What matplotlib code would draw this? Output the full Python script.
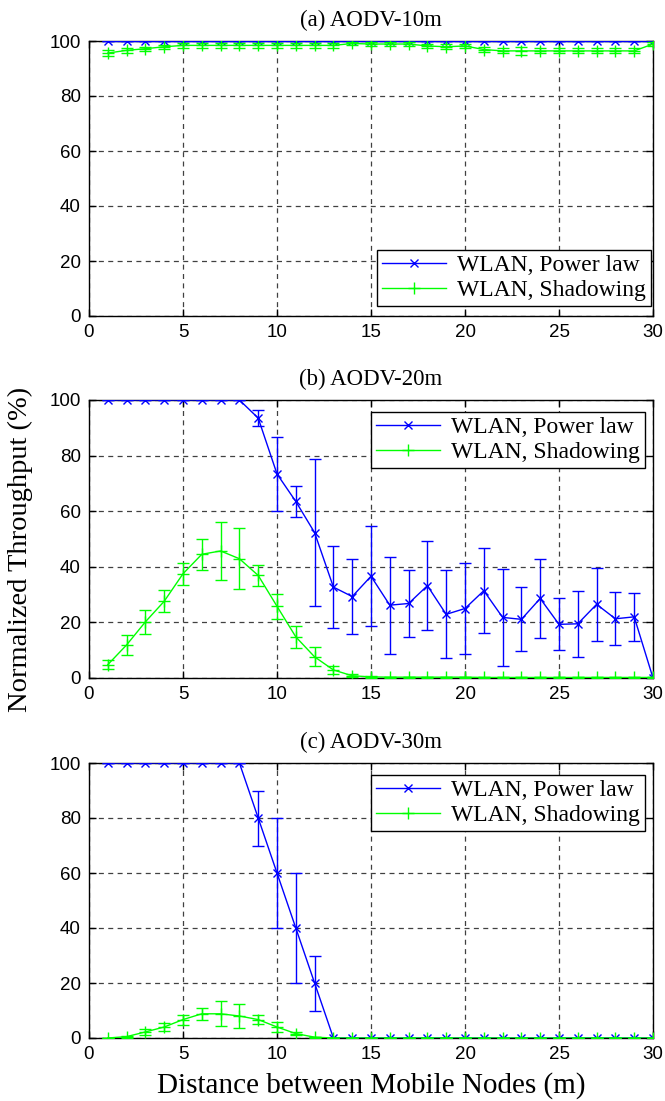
import matplotlib
matplotlib.use("Agg")
import matplotlib.pyplot as plt

# Node spacing (m)
distance = list(range(1, 31))

# (a) AODV-10m
a_power = [100] * 30
a_power_err = [0] * 30
a_shadow = [95.6, 96.6, 97.2, 97.9, 98.4, 98.4, 98.4, 98.4, 98.4, 98.4,
            98.4, 98.4, 98.4, 99.1, 98.9, 98.9, 98.9, 98.2, 97.9, 98.2,
            96.9, 96.4, 96.4, 96.4, 96.4, 96.4, 96.4, 96.4, 96.4, 98.9]
a_shadow_err = [1.2, 0.9, 0.8, 0.8, 0.8, 0.8, 0.8, 0.8, 0.8, 0.9,
                0.8, 0.9, 0.8, 0.7, 0.8, 0.8, 0.7, 0.8, 0.9, 0.8,
                0.8, 0.9, 1.5, 0.9, 0.9, 0.9, 0.9, 0.9, 0.9, 0.6]

# (b) AODV-20m
b_power = [100, 100, 100, 100, 100, 100, 100, 100, 93.5, 73.4,
           63.5, 52.3, 32.7, 29.3, 36.6, 26.2, 26.8, 33.2, 22.9, 25.0,
           31.4, 21.8, 21.1, 28.6, 19.3, 19.5, 26.5, 21.3, 22.0, 0]
b_power_err = [0, 0, 0, 0, 0, 0, 0, 0, 3.0, 13.3,
               5.6, 26.3, 14.7, 13.4, 18.0, 17.4, 12.0, 16.0, 15.8, 16.2,
               15.2, 17.5, 11.5, 14.2, 9.3, 11.9, 13.1, 9.6, 8.7, 0]
b_shadow = [4.8, 11.9, 20.2, 27.6, 37.5, 44.5, 45.7, 42.9, 36.9, 25.8,
            14.8, 7.6, 2.9, 0.8, 0.4, 0.3, 0.3, 0.3, 0.3, 0.3,
            0.2, 0.2, 0.2, 0.2, 0.2, 0.2, 0.2, 0.2, 0.2, 0.2]
b_shadow_err = [1.6, 3.6, 4.2, 4.0, 4.0, 5.5, 10.5, 11.0, 3.9, 4.4,
                4.0, 3.4, 1.5, 0.6, 0.3, 0.2, 0.2, 0.2, 0.2, 0.2,
                0.1, 0.1, 0.1, 0.1, 0.1, 0.1, 0.1, 0.1, 0.1, 0.1]

# (c) AODV-30m
c_power = [100, 100, 100, 100, 100, 100, 100, 100, 80, 60,
           40, 20, 0, 0, 0, 0, 0, 0, 0, 0,
           0, 0, 0, 0, 0, 0, 0, 0, 0, 0]
c_power_err = [0, 0, 0, 0, 0, 0, 0, 0, 10, 20,
               20, 10, 0, 0, 0, 0, 0, 0, 0, 0,
               0, 0, 0, 0, 0, 0, 0, 0, 0, 0]
c_shadow = [0, 0.5, 2.2, 4.0, 6.7, 8.8, 8.8, 8.0, 6.7, 4.0,
            1.6, 0.3, 0, 0, 0, 0, 0, 0, 0, 0,
            0, 0, 0, 0, 0, 0, 0, 0, 0, 0]
c_shadow_err = [0, 0.4, 1.0, 1.5, 1.8, 2.2, 4.6, 4.5, 1.6, 1.8,
                0.6, 0.2, 0, 0, 0, 0, 0, 0, 0, 0,
                0, 0, 0, 0, 0, 0, 0, 0, 0, 0]

titles = ["(a) AODV-10m", "(b) AODV-20m", "(c) AODV-30m"]
series_labels = ["WLAN, Power law", "WLAN, Shadowing"]
x_ticks = [0, 5, 10, 15, 20, 25, 30]
y_ticks = [0, 20, 40, 60, 80, 100]

BLUE = "#0000ff"
GREEN = "#00ff00"
SERIF = "Liberation Serif"
SANS = "Liberation Sans"

W, H = 665, 1101
fig = plt.figure(figsize=(W / 100, H / 100), dpi=100)

# axes boxes in pixels: (left, top, right, bottom)
boxes = [(89, 41, 653, 316), (89, 400, 653, 678), (89, 763, 653, 1038)]
legend_loc = ["lower right", "upper right", "upper right"]

panels = [
    (a_power, a_power_err, a_shadow, a_shadow_err),
    (b_power, b_power_err, b_shadow, b_shadow_err),
    (c_power, c_power_err, c_shadow, c_shadow_err),
]

for i, (box, (p, pe, s, se)) in enumerate(zip(boxes, panels)):
    l, t, r, b = box
    ax = fig.add_axes([l / W, 1 - b / H, (r - l) / W, (b - t) / H])

    ax.errorbar(distance, p, yerr=pe, fmt="none", ecolor=BLUE,
                elinewidth=1.0, capsize=4, capthick=1.0, zorder=3)
    ax.plot(distance, p, "-x", color=BLUE, lw=1.0, ms=6, mew=1.0,
            label=series_labels[0], zorder=4)
    ax.errorbar(distance, s, yerr=se, fmt="none", ecolor=GREEN,
                elinewidth=1.0, capsize=4, capthick=1.0, zorder=5)
    ax.plot(distance, s, "-+", color=GREEN, lw=1.0, ms=8, mew=1.0,
            label=series_labels[1], zorder=6)

    ax.set_xlim(0, 30)
    ax.set_ylim(0, 100)
    ax.set_xticks(x_ticks)
    ax.set_yticks(y_ticks)
    ax.grid(True, color="0.25", linestyle=(0, (4, 3.5)), linewidth=0.9)
    ax.set_axisbelow(True)
    ax.tick_params(direction="in", length=5, width=1, top=True, right=True,
                   labelsize=13.5, pad=6)
    for lab in ax.get_xticklabels() + ax.get_yticklabels():
        lab.set_fontfamily(SANS)
    for sp in ax.spines.values():
        sp.set_linewidth(1.0)
        sp.set_color("black")

    ax.set_title(titles[i], family=SERIF, fontsize=16.5, pad=11)

    if legend_loc[i] == "upper right":
        anchor = (1 - 8 / (r - l), 1 - 12 / (b - t))
    else:
        anchor = (1 - 2 / (r - l), 10 / (b - t))
    leg = ax.legend(loc=legend_loc[i], bbox_to_anchor=anchor,
                    prop={"family": SERIF, "size": 17},
                    fancybox=False, framealpha=1, edgecolor="black",
                    borderpad=0.2, labelspacing=0.15, handlelength=2.7,
                    handletextpad=0.5, borderaxespad=0.0)
    leg.get_frame().set_linewidth(1.0)

    if i == 2:
        ax.set_xlabel("Distance between Mobile Nodes (m)", family=SERIF,
                      fontsize=21, labelpad=6)

fig.text(20 / W, 1 - 549 / H, "Normalized Throughput (%)", family=SERIF,
         fontsize=20.5, rotation=90, ha="center", va="center")

fig.savefig("out.png", dpi=100)
